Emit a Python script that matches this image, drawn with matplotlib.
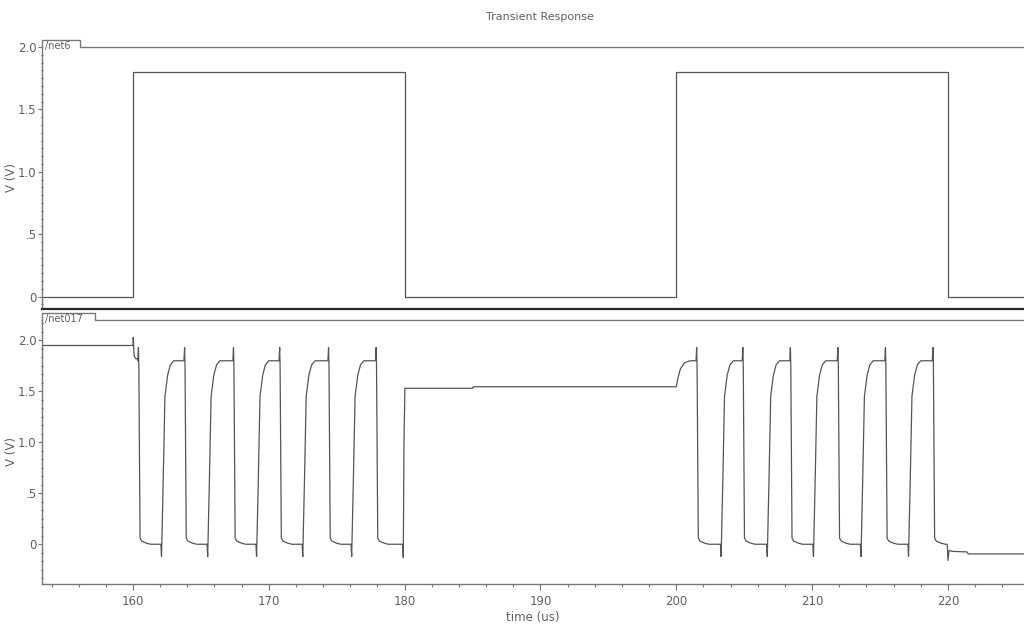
#!/usr/bin/env python3
"""Transient response of /net6 (input) and /net017 (output), two stacked strips."""

import matplotlib

matplotlib.use("Agg")
import matplotlib.pyplot as plt
from matplotlib.lines import Line2D
from matplotlib.ticker import MultipleLocator, FixedLocator, FuncFormatter

# ---- data ------------------------------------------------------------------
X_RANGE = (153.3, 225.6)  # us

# /net6: square input, levels switch at these times
net6_times = [153.3, 160.0, 180.0, 200.0, 220.0, 225.6]
net6_levels = [0.0, 1.8, 0.0, 1.8, 0.0, 0.0]

# /net017: output bursts (edge times in us)
burst1_falls = [160.4, 163.8, 167.4, 170.8, 174.4, 177.9]
burst1_rises = [162.1, 165.5, 169.1, 172.5, 176.1]
burst2_falls = [201.5, 204.9, 208.4, 211.9, 215.4, 218.9]
burst2_rises = [203.3, 206.7, 210.1, 213.6, 217.1]

# edge shapes as (time offset, volts) around an edge
fall_dt = [-0.05, 0.0, 0.03, 0.12, 0.25, 0.6, 0.9]
fall_v = [1.80, 1.93, 1.75, 0.06, 0.03, 0.01, 0.0]
rise_dt = [-0.05, 0.0, 0.12, 0.25, 0.45, 0.65, 0.9]
rise_v = [0.0, -0.12, 0.6, 1.45, 1.66, 1.76, 1.80]

# start of trace, idle between bursts, tail
start_t = [153.3, 160.0, 160.02, 160.08, 160.2, 160.33]
start_v = [1.95, 1.95, 2.03, 1.85, 1.82, 1.82]
idle_t = [179.85, 179.9, 179.95, 180.02, 185.0, 185.05, 200.0, 200.1, 200.3, 200.6, 201.0]
idle_v = [0.0, -0.13, 1.0, 1.53, 1.53, 1.545, 1.545, 1.62, 1.72, 1.78, 1.80]
tail_t = [219.95, 220.0, 220.08, 220.3, 221.4, 221.5, 225.6]
tail_v = [0.0, -0.16, -0.06, -0.07, -0.075, -0.095, -0.095]

LINE = "#555555"
TEXT = "#606060"
FONT = ["Liberation Sans Narrow", "DejaVu Sans"]


def build_net017():
    t, v = list(start_t), list(start_v)

    def add_edge(t0, dts, vs):
        t.extend(t0 + d for d in dts)
        v.extend(vs)

    for falls, rises in ((burst1_falls, burst1_rises), (burst2_falls, burst2_rises)):
        for i, tf in enumerate(falls):
            add_edge(tf, fall_dt, fall_v)
            if i < len(rises):
                add_edge(rises[i], rise_dt, rise_v)
        if falls is burst1_falls:
            t.extend(idle_t)
            v.extend(idle_v)
    t.extend(tail_t)
    v.extend(tail_v)
    return t, v


def style_axis(ax, ylim, minor_step):
    ax.set_xlim(*X_RANGE)
    ax.set_ylim(*ylim)
    for s in ("top", "right"):
        ax.spines[s].set_visible(False)
    for s in ("left", "bottom"):
        ax.spines[s].set_color("#777777")
        ax.spines[s].set_linewidth(1.0)
    ax.yaxis.set_major_locator(FixedLocator([0, 0.5, 1.0, 1.5, 2.0]))
    ax.yaxis.set_major_formatter(
        FuncFormatter(lambda y, _: {0: "0", 0.5: ".5"}.get(round(y, 2), f"{y:.1f}"))
    )
    ax.yaxis.set_minor_locator(MultipleLocator(minor_step))
    ax.tick_params(axis="y", which="major", direction="out", length=3, width=0.8,
                   color="#777777", labelcolor=TEXT, labelsize=8.5, pad=1)
    ax.tick_params(axis="y", which="minor", direction="inout", length=2, width=0.8,
                   color="#555555")
    ax.set_ylabel("V (V)", color=TEXT, fontsize=8.5, labelpad=0, family=FONT)
    for lab in ax.get_yticklabels():
        lab.set_family(FONT)


def add_tab(fig, x0, x1, y_top, y_frame, label):
    W, H = fig.get_size_inches() * fig.dpi
    xs = [x0 / W, x0 / W, x1 / W, x1 / W, 1.0]
    ys = [1 - y_frame / H, 1 - y_top / H, 1 - y_top / H, 1 - y_frame / H, 1 - y_frame / H]
    fig.add_artist(Line2D(xs, ys, color="#777777", lw=1.0))
    fig.text((x0 + 3) / W, 1 - (y_frame - 1) / H, label, color=TEXT, fontsize=7,
             va="center", ha="left", family=FONT)


def main():
    fig = plt.figure(figsize=(10.24, 6.26), dpi=100)
    W, H = 1024, 626
    left = 42 / W

    ax_top = fig.add_axes([left, 1 - 309 / H, 1 - left, (309 - 47) / H])
    ax_bot = fig.add_axes([left, 1 - 584 / H, 1 - left, (584 - 320) / H])

    ax_top.step(net6_times, net6_levels, where="post", color=LINE, lw=0.9)
    style_axis(ax_top, (-0.1, 2.0), 0.0625)
    ax_top.set_xticks([])
    ax_top.spines["bottom"].set_color("#2a2a2a")
    ax_top.spines["bottom"].set_linewidth(1.6)

    t, v = build_net017()
    ax_bot.plot(t, v, color=LINE, lw=0.9)
    style_axis(ax_bot, (-0.39, 2.2), 0.5 / 6)
    ax_bot.xaxis.set_major_locator(MultipleLocator(10))
    ax_bot.xaxis.set_minor_locator(MultipleLocator(2))
    ax_bot.tick_params(axis="x", which="major", direction="out", length=4, width=0.8,
                       color="#777777", labelcolor=TEXT, labelsize=8.5, pad=4)
    ax_bot.tick_params(axis="x", which="minor", direction="out", length=2.5, width=0.8,
                       color="#777777")
    for lab in ax_bot.get_xticklabels():
        lab.set_family(FONT)
    ax_bot.set_xlabel("time (us)", color=TEXT, fontsize=8.5, labelpad=2, family=FONT)

    add_tab(fig, 42, 80, 40, 47, "/net6")
    add_tab(fig, 42, 95, 313, 320, "/net017")

    fig.text(0.527, 1 - 17 / H, "Transient Response", color=TEXT, fontsize=8,
             ha="center", va="center", family=FONT)

    fig.savefig("out.png", dpi=100)
    plt.close(fig)


if __name__ == "__main__":
    main()
